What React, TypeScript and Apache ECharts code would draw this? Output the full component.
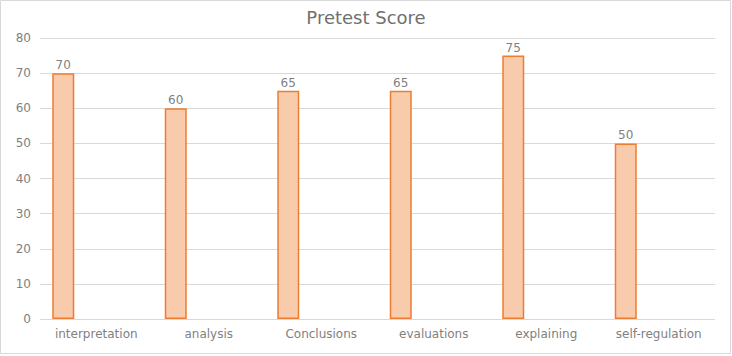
import React, { useEffect, useRef } from "react";
import * as echarts from "echarts";

const categories = ["interpretation", "analysis", "Conclusions", "evaluations", "explaining", "self-regulation"];
const scores = [70, 60, 65, 65, 75, 50];
const yTicks = { min: 0, max: 80, interval: 10 };

export default function App() {
  const ref = useRef<HTMLDivElement>(null);
  useEffect(() => {
    if (!ref.current) return;
    const chart = echarts.init(ref.current, undefined, { renderer: "svg" });
    const font = "'DejaVu Sans', sans-serif";
    chart.setOption({
      animation: false,
      backgroundColor: "#ffffff",
      title: {
        text: "Pretest Score",
        left: "center",
        top: 3,
        textStyle: { fontFamily: font, fontSize: 18, fontWeight: "normal", color: "#707070" },
      },
      grid: { left: 40, right: 17, top: 38, bottom: 37, containLabel: false },
      xAxis: {
        type: "category",
        data: categories,
        axisLine: { show: false },
        axisTick: { show: false },
        axisLabel: { fontFamily: font, fontSize: 12, color: "#7f7f7f", margin: 9, interval: 0 },
      },
      yAxis: {
        type: "value",
        min: yTicks.min,
        max: yTicks.max,
        interval: yTicks.interval,
        axisLine: { show: false },
        axisTick: { show: false },
        axisLabel: { fontFamily: font, fontSize: 12, color: "#7f7f7f", margin: 9 },
        splitLine: { lineStyle: { color: "#d9d9d9", width: 1 } },
      },
      graphic: [
        {
          type: "rect",
          shape: { x: 0.5, y: 0.5, width: 730, height: 353 },
          style: { fill: "none", stroke: "#d9d9d9", lineWidth: 1 },
          silent: true,
        },
      ],
      series: [
        {
          type: "bar",
          data: scores,
          barWidth: 22,
          barGap: "50%",
          itemStyle: { color: "#f8cbad", borderColor: "#ed7d31", borderWidth: 1.5 },
          label: {
            show: true,
            position: "top",
            distance: 2,
            fontFamily: font,
            fontSize: 12,
            color: "#7f7f7f",
          },
        },
        { type: "bar", data: categories.map(() => null), barWidth: 22 },
        { type: "bar", data: categories.map(() => null), barWidth: 22 },
      ],
    });
    return () => chart.dispose();
  }, []);
  return (
    <div
      ref={ref}
      style={{ position: "fixed", left: 0, top: 0, width: 732, height: 356 }}
    />
  );
}
